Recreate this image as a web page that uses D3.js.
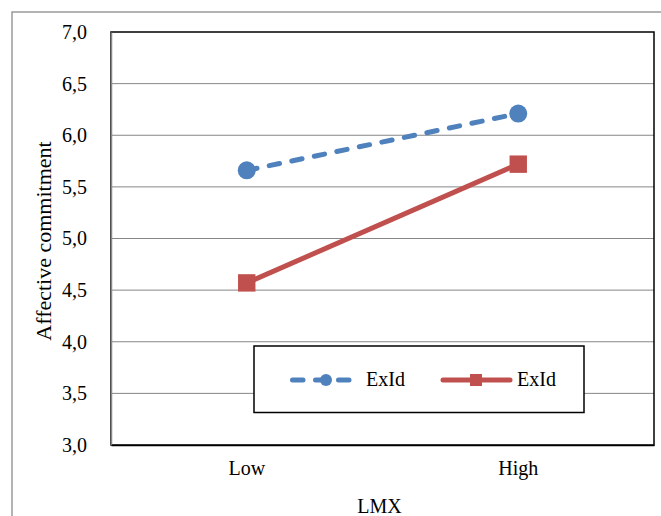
<!DOCTYPE html>
<html>
<head>
<meta charset="utf-8">
<script src="https://cdn.jsdelivr.net/npm/d3@7"></script>
<style>
  html, body { margin: 0; padding: 0; background: #fff; }
  svg { display: block; font-family: "Liberation Serif", "Times New Roman", serif; }
</style>
</head>
<body>
<svg id="chart" width="661" height="516"></svg>
<script>
const categories = ["Low", "High"];
const seriesNames = ["ExId", "ExId"];
const seriesBlue = [5.66, 6.21];
const seriesRed = [4.57, 5.72];
const yTicks = [3.0, 3.5, 4.0, 4.5, 5.0, 5.5, 6.0, 6.5, 7.0];
const xTitle = "LMX";
const yTitle = "Affective commitment";

const svg = d3.select("#chart");
const W = 661, H = 516;
const plot = { left: 111, top: 32, right: 654, bottom: 445 };

const blue = "#4F81BD", red = "#C0504D";

// outer frame
svg.append("rect").attr("x", 12).attr("y", 12).attr("width", W + 10).attr("height", H + 10)
  .attr("fill", "#fff").attr("stroke", "#8c8c8c").attr("stroke-width", 1.3);

const x = d3.scaleBand().domain(categories).range([plot.left, plot.right]);
const y = d3.scaleLinear().domain([3, 7]).range([plot.bottom, plot.top]);
const cx = c => x(c) + x.bandwidth() / 2;

const fmt = v => d3.format(".1f")(v).replace(".", ",");

// gridlines
svg.append("g").selectAll("line").data(yTicks.filter(t => t > 3 && t < 7)).join("line")
  .attr("x1", plot.left).attr("x2", plot.right)
  .attr("y1", d => y(d)).attr("y2", d => y(d))
  .attr("stroke", "#878787").attr("stroke-width", 1);

// plot border
svg.append("rect").attr("x", plot.left).attr("y", plot.top)
  .attr("width", plot.right - plot.left).attr("height", plot.bottom - plot.top)
  .attr("fill", "none").attr("stroke", "#000").attr("stroke-width", 1.5);

// y axis
const yAxis = d3.axisLeft(y).tickValues(yTicks).tickFormat(fmt).tickSize(0).tickPadding(24);
const gy = svg.append("g").attr("transform", `translate(${plot.left},0)`).call(yAxis);
gy.select(".domain").attr("stroke", "#878787").attr("stroke-width", 1.5);
gy.selectAll("text").attr("font-size", 20).attr("fill", "#000")
  .attr("font-family", "Liberation Serif").attr("dy", "0.32em");

// x axis
const xAxis = d3.axisBottom(x).tickSize(0).tickPadding(16);
const gx = svg.append("g").attr("transform", `translate(0,${plot.bottom})`).call(xAxis);
gx.select(".domain").attr("stroke", "#000").attr("stroke-width", 1.5);
gx.selectAll("text").attr("font-size", 20).attr("fill", "#000")
  .attr("font-family", "Liberation Serif");

// titles
svg.append("text").attr("x", (plot.left + plot.right) / 2 - 3).attr("y", 513)
  .attr("text-anchor", "middle").attr("font-size", 20).text(xTitle);
svg.append("text").attr("transform", `translate(51,241) rotate(-90)`)
  .attr("text-anchor", "middle").attr("font-size", 22).text(yTitle);

// lines
const line = d3.line().x((d, i) => cx(categories[i])).y(d => y(d));
svg.append("path").datum(seriesBlue).attr("d", line).attr("fill", "none")
  .attr("stroke", blue).attr("stroke-width", 5).attr("stroke-linecap", "round")
  .attr("stroke-dasharray", "10.5,12.5");
svg.append("path").datum(seriesRed).attr("d", line).attr("fill", "none")
  .attr("stroke", red).attr("stroke-width", 5);

// markers
svg.append("g").selectAll("circle").data(seriesBlue).join("circle")
  .attr("cx", (d, i) => cx(categories[i])).attr("cy", d => y(d)).attr("r", 9)
  .attr("fill", blue);
svg.append("g").selectAll("rect").data(seriesRed).join("rect")
  .attr("x", (d, i) => cx(categories[i]) - 8.7).attr("y", d => y(d) - 8.7)
  .attr("width", 17.4).attr("height", 17.4).attr("fill", red);

// legend
const lg = svg.append("g");
lg.append("rect").attr("x", 254).attr("y", 346).attr("width", 330).attr("height", 66.5)
  .attr("fill", "#fff").attr("stroke", "#000").attr("stroke-width", 1.5);
const ly = 380;
lg.append("line").attr("x1", 292.5).attr("x2", 350).attr("y1", ly).attr("y2", ly)
  .attr("stroke", blue).attr("stroke-width", 5).attr("stroke-linecap", "round")
  .attr("stroke-dasharray", "10.5,12.5");
lg.append("circle").attr("cx", 326).attr("cy", ly).attr("r", 6).attr("fill", blue);
lg.append("text").attr("x", 366).attr("y", ly).attr("dy", "0.32em").attr("font-size", 20).text(seriesNames[0]);
lg.append("line").attr("x1", 443).attr("x2", 510).attr("y1", ly).attr("y2", ly)
  .attr("stroke", red).attr("stroke-width", 5).attr("stroke-linecap", "round");
lg.append("rect").attr("x", 470).attr("y", ly - 6).attr("width", 12).attr("height", 12).attr("fill", red);
lg.append("text").attr("x", 517).attr("y", ly).attr("dy", "0.32em").attr("font-size", 20).text(seriesNames[1]);
</script>
</body>
</html>
